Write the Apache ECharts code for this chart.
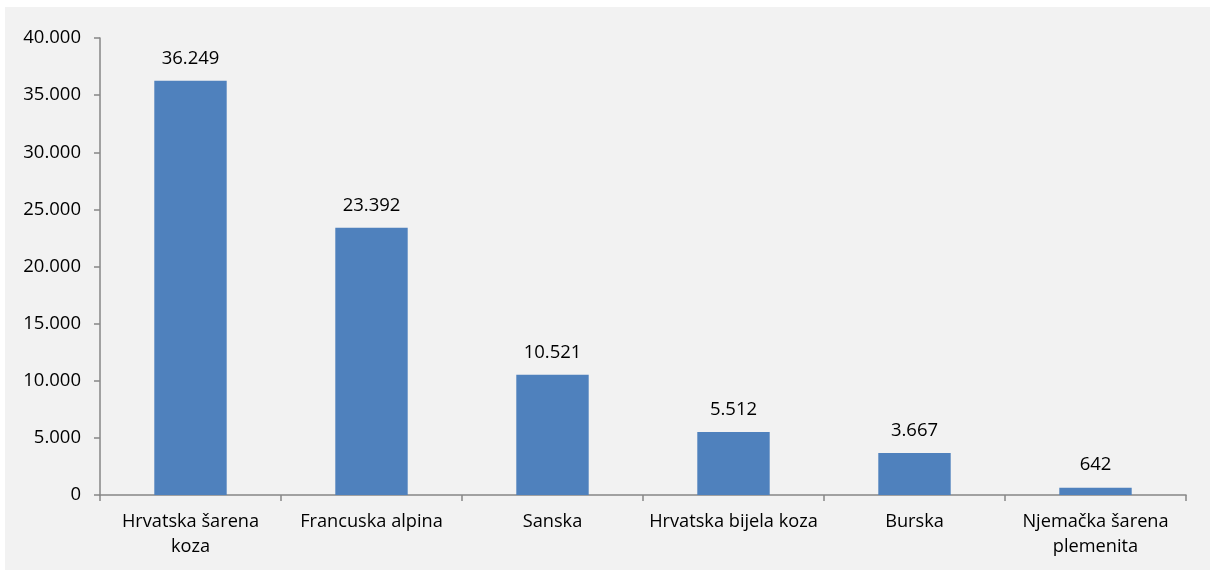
<!DOCTYPE html>
<html>
<head>
<meta charset="utf-8">
<script src="https://cdn.jsdelivr.net/npm/echarts@6/dist/echarts.min.js"></script>
<style>
  html, body { margin: 0; padding: 0; background: #ffffff; }
  #chart { position: absolute; left: 5px; top: 7px; width: 1205px; height: 563px; background: #f2f2f2; }
</style>
</head>
<body>
<div id="chart"></div>
<script>
  // breeds and head counts
  const categories = ["Hrvatska šarena\nkoza", "Francuska alpina", "Sanska", "Hrvatska bijela koza", "Burska", "Njemačka šarena\nplemenita"];
  const values = [36249, 23392, 10521, 5512, 3667, 642];
  const yTicks = [0, 5000, 10000, 15000, 20000, 25000, 30000, 35000, 40000];

  function fmt(v) {
    return String(v).replace(/\B(?=(\d{3})+(?!\d))/g, ".");
  }

  const font = "'Open Sans', 'DejaVu Sans', sans-serif";
  const axisGrey = "#868686";
  const chart = echarts.init(document.getElementById("chart"), null, { renderer: "canvas" });
  chart.setOption({
    animation: false,
    grid: { left: 95, right: 24, top: 31, bottom: 75, containLabel: false },
    xAxis: {
      type: "category",
      data: categories,
      axisLine: { lineStyle: { color: axisGrey, width: 1.5 } },
      axisTick: { show: true, length: 6, alignWithLabel: false, lineStyle: { color: axisGrey, width: 1.5 } },
      axisLabel: { color: "#000", fontFamily: font, fontSize: 18.2, margin: 14, lineHeight: 25, interval: 0 }
    },
    yAxis: {
      type: "value",
      min: yTicks[0],
      max: yTicks[yTicks.length - 1],
      interval: yTicks[1] - yTicks[0],
      axisLine: { show: true, lineStyle: { color: axisGrey, width: 1.5 } },
      axisTick: { show: true, length: 6, lineStyle: { color: axisGrey, width: 1.5 } },
      splitLine: { show: false },
      axisLabel: { color: "#000", fontFamily: font, fontSize: 18.5, margin: 19, formatter: fmt }
    },
    series: [{
      type: "bar",
      data: values,
      barWidth: "40%",
      itemStyle: { color: "#4f81bd" },
      label: {
        show: true, position: "top", distance: 13,
        color: "#000", fontFamily: font, fontSize: 18.5,
        formatter: function (p) { return fmt(p.value); }
      }
    }]
  });
</script>
</body>
</html>
